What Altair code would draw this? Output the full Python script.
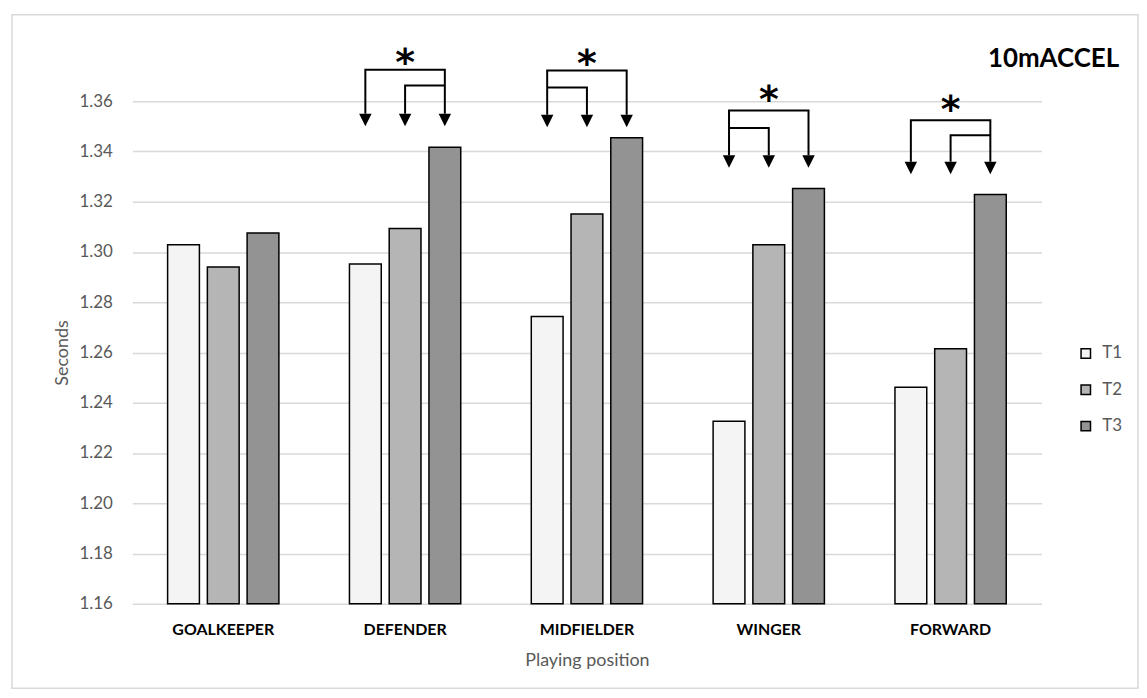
import altair as alt
import pandas as pd

# ---------------- data ----------------
positions = ["GOALKEEPER", "DEFENDER", "MIDFIELDER", "WINGER", "FORWARD"]
series = ["T1", "T2", "T3"]
t1 = [1.3029, 1.2952, 1.2743, 1.2326, 1.2462]
t2 = [1.2940, 1.3094, 1.3151, 1.3029, 1.2615]
t3 = [1.3076, 1.3417, 1.3455, 1.3253, 1.3229]
colors = ["#f4f4f4", "#b5b5b5", "#939393"]
y_ticks = [1.16, 1.18, 1.20, 1.22, 1.24, 1.26, 1.28, 1.30, 1.32, 1.34, 1.36]
chart_title = "10mACCEL"

# significance annotations (data units)
sig_positions = ["DEFENDER", "MIDFIELDER", "WINGER", "FORWARD"]
outer_y = [1.3726, 1.3723, 1.3563, 1.3525]
inner_y = [1.3663, 1.3655, 1.3494, 1.3465]
inner_other = ["T3", "T1", "T1", "T3"]
tip_y = [1.3501, 1.3497, 1.3336, 1.3310]
star_y = [1.3778, 1.3771, 1.3628, 1.3587]

# ---------------- frames ----------------
rows = []
for i, p in enumerate(positions):
    for s, vals in zip(series, [t1, t2, t3]):
        rows.append({"position": p, "series": s, "value": vals[i]})
bars_df = pd.DataFrame(rows)

W, H = 914, 505
px = (y_ticks[-1] - y_ticks[0]) / H
head = 12.5

line_rows, head_rows, star_rows = [], [], []
for i, p in enumerate(sig_positions):
    top = tip_y[i] + head * px
    outer = [("T1", top), ("T1", outer_y[i]), ("T3", outer_y[i]), ("T3", top)]
    inner = [("T2", top), ("T2", inner_y[i]), (inner_other[i], inner_y[i])]
    for name, pts in (("outer", outer), ("inner", inner)):
        for k, (s, v) in enumerate(pts):
            line_rows.append({"position": p, "series": s, "value": v,
                              "path": f"{p}-{name}", "idx": k})
    for s in series:
        head_rows.append({"position": p, "series": s,
                          "value": tip_y[i] + head / 2 * px})
    star_rows.append({"position": p, "series": "T2", "value": star_y[i]})
lines_df = pd.DataFrame(line_rows)
heads_df = pd.DataFrame(head_rows)
stars_df = pd.DataFrame(star_rows)

# ---------------- encodings ----------------
FONT = "Lato"
GRAY = "#595959"

x_enc = alt.X("position:N", sort=positions,
              scale=alt.Scale(domain=positions, paddingInner=0.388, paddingOuter=0.194),
              axis=alt.Axis(title="Playing position", labelAngle=0, domain=False, ticks=False,
                            labelFont=FONT, labelFontSize=16, labelFontWeight="bold",
                            labelColor="black", labelPadding=18,
                            titleFont=FONT, titleFontSize=18, titleFontWeight="normal",
                            titleColor=GRAY, titlePadding=14))
xo_enc = alt.XOffset("series:N", sort=series,
                     scale=alt.Scale(domain=series, paddingInner=0.2, paddingOuter=0))
y_enc = alt.Y("value:Q",
              scale=alt.Scale(domain=[1.16, 1.36], nice=False, zero=False),
              axis=alt.Axis(title="Seconds", values=y_ticks, format=".2f",
                            domain=False, ticks=False, labelPadding=20,
                            labelFont=FONT, labelFontSize=17, labelColor=GRAY,
                            gridColor="#d9d9d9", gridWidth=1.5,
                            titleFont=FONT, titleFontSize=18, titleFontWeight="normal",
                            titleColor=GRAY, titlePadding=8))

frame = alt.Chart(pd.DataFrame({"k": [0]})).mark_rect(
    fillOpacity=0, stroke="#d9d9d9", strokeWidth=1.5
).encode(x=alt.value(-121), x2=alt.value(1011), y=alt.value(-87), y2=alt.value(590))

title = alt.Chart(pd.DataFrame({"t": [chart_title]})).mark_text(
    font=FONT, fontSize=26, fontWeight="bold", color="black",
    align="right", baseline="middle"
).encode(text="t:N", x=alt.value(W + 78), y=alt.value(-43))

bars = alt.Chart(bars_df).mark_bar(stroke="black", strokeWidth=1.5).encode(
    x=x_enc, xOffset=xo_enc, y=y_enc, y2=alt.datum(1.16),
    color=alt.Color("series:N", sort=series,
                    scale=alt.Scale(domain=series, range=colors),
                    legend=alt.Legend(title=None, orient="none", legendX=950, legendY=245,
                                      symbolType="square", symbolSize=90,
                                      symbolStrokeColor="black", symbolStrokeWidth=1.5,
                                      labelFont=FONT, labelFontSize=17, labelColor=GRAY,
                                      labelOffset=8, rowPadding=18.5)),
)

lines = alt.Chart(lines_df).mark_line(color="black", strokeWidth=2, strokeJoin="miter").encode(
    x=x_enc, xOffset=xo_enc, y=y_enc, detail="path:N", order="idx:Q"
)
heads = alt.Chart(heads_df).mark_point(
    shape="M-1,-1L1,-1L0,1Z", filled=True, color="black", opacity=1,
    size=head * head, strokeWidth=0
).encode(x=x_enc, xOffset=xo_enc, y=y_enc)
stars = alt.Chart(stars_df).mark_text(
    text="*", font="DejaVu Sans", fontSize=38, fontWeight="bold", baseline="alphabetic",
    dy=18, color="black"
).encode(x=x_enc, xOffset=xo_enc, y=y_enc)

chart = alt.layer(frame, title, bars, lines, heads, stars).properties(
    width=W, height=H,
    padding={"left": 125, "top": 92, "right": 98, "bottom": 88},
    autosize=alt.AutoSizeParams(type="none"),
).configure_view(stroke=None)

chart.save("out.html", embed_options={"renderer": "svg", "actions": False})
